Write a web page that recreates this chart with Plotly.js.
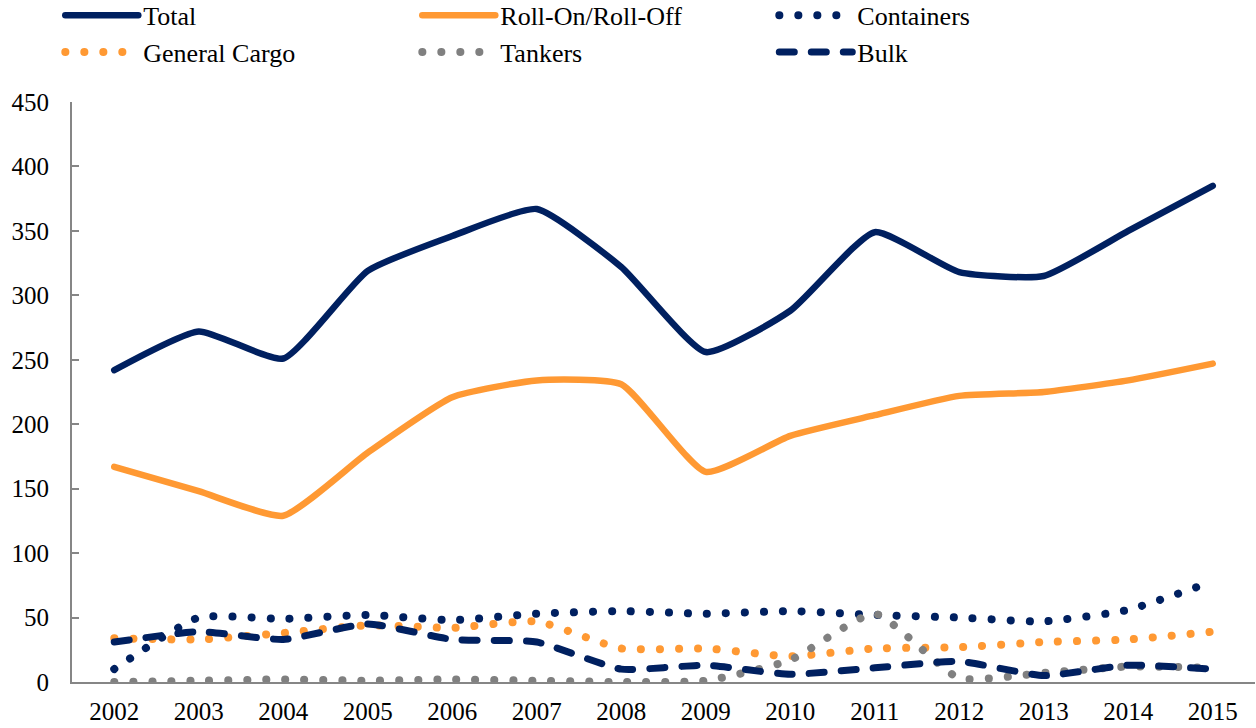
<!DOCTYPE html>
<html>
<head>
<meta charset="utf-8">
<script src="https://cdn.plot.ly/plotly-3.0.1.min.js"></script>
<style>
html, body { margin: 0; padding: 0; background: #fff; }
#chart { width: 1256px; height: 728px; }
.scatterlayer path.js-line, .legend path.js-line { stroke-linecap: round; }
</style>
</head>
<body>
<div id="chart"></div>
<script>
var years = [2002, 2003, 2004, 2005, 2006, 2007, 2008, 2009, 2010, 2011, 2012, 2013, 2014, 2015];
var total = [242, 272, 251, 319, 346, 367, 322, 256, 288, 349, 318, 315, 350, 385];
var rollOnRollOff = [167, 148, 129, 178, 221, 234, 231, 163, 191, 207, 222, 225, 234, 247];
var containers = [10, 50, 49, 52, 48, 53, 55, 53, 55, 52, 50, 47, 56, 78];
var generalCargo = [34, 33, 38, 44, 42, 47, 26, 26, 20, 26, 27, 31, 33, 39];
var tankers = [0, 1, 2, 1, 2, 1, 0, 1, 17, 53, 3, 7, 12, 11];
var bulk = [31, 39, 33, 45, 33, 31, 10, 13, 6, 11, 16, 5, 13, 10];
var yTicks = [0, 50, 100, 150, 200, 250, 300, 350, 400, 450];

var NAVY = '#002060', ORANGE = '#FF9933', GRAY = '#808080';
var DOTS = '0.1px,18.9px';

function tr(name, y, color, width, dash) {
  return {
    type: 'scatter', mode: 'lines', name: name, x: years, y: y,
    line: {color: color, width: width, dash: dash, shape: 'spline', smoothing: 0.5},
    hoverinfo: 'x+y+name'
  };
}

var data = [
  tr('Total', total, NAVY, 6.5, 'solid'),
  tr('Roll-On/Roll-Off', rollOnRollOff, ORANGE, 6.5, 'solid'),
  tr('Containers', containers, NAVY, 8, DOTS),
  tr('General Cargo', generalCargo, ORANGE, 8, DOTS),
  tr('Tankers', tankers, GRAY, 8, DOTS),
  tr('Bulk', bulk, NAVY, 7, '15px,17px')
];

var FONT = 'Liberation Serif, DejaVu Serif, serif';

var layout = {
  width: 1256, height: 728,
  paper_bgcolor: '#fff', plot_bgcolor: '#fff',
  margin: {l: 72, r: 1, t: 102, b: 46, autoexpand: false},
  font: {family: FONT, size: 25, color: '#000'},
  showlegend: true,
  legend: {
    orientation: 'h',
    xref: 'container', yref: 'paper',
    x: 0.048, y: 1.19, xanchor: 'left', yanchor: 'top',
    entrywidth: 269, entrywidthmode: 'pixels',
    itemwidth: 73,
    font: {family: FONT, size: 26, color: '#000'},
    bgcolor: 'rgba(0,0,0,0)',
    traceorder: 'normal'
  },
  xaxis: {
    type: 'linear',
    range: [2001.5, 2015.5],
    tickvals: years,
    ticktext: years.map(String),
    showgrid: false, zeroline: false,
    showline: true, linecolor: '#868686', linewidth: 2,
    ticks: '',
    ticklabelstandoff: 6,
    tickfont: {family: FONT, size: 25, color: '#000'}
  },
  yaxis: {
    range: [0, 450],
    tickvals: yTicks,
    showgrid: false, zeroline: false,
    showline: true, linecolor: '#868686', linewidth: 2,
    ticks: 'inside', ticklen: 7, tickwidth: 2, tickcolor: '#868686',
    ticklabelstandoff: 16,
    tickfont: {family: FONT, size: 25, color: '#000'}
  }
};

Plotly.newPlot('chart', data, layout, {displayModeBar: false, staticPlot: true});
</script>
</body>
</html>
